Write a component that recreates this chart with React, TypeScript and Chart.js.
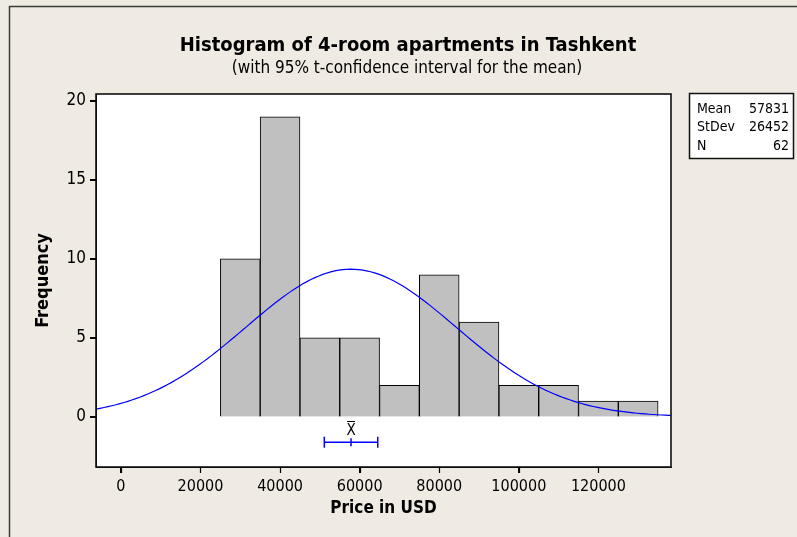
import React, { useEffect, useRef } from "react";
import { Chart, registerables } from "chart.js";

Chart.register(...registerables);

// ---- data ----
const BIN_CENTERS = [30000, 40000, 50000, 60000, 70000, 80000, 90000, 100000, 110000, 120000, 130000];
const BIN_COUNTS = [10, 19, 5, 5, 2, 9, 6, 2, 2, 1, 1];
const BIN_WIDTH = 10000;
const MEAN = 57831;
const STDEV = 26452;
const N = 62;
const CI_LOW = 51114;
const CI_HIGH = 64548;
const X_TICKS = [0, 20000, 40000, 60000, 80000, 100000, 120000];
const Y_TICKS = [0, 5, 10, 15, 20];
const X_MIN = -6256;
const X_MAX = 138240;
const Y_MIN = -3.17;
const Y_MAX = 20.44;
const CI_Y = -1.6;
const LEGEND_ROWS: [string, string][] = [
  ["Mean", "57831"],
  ["StDev", "26452"],
  ["N", "62"],
];
const TITLE = "Histogram of 4-room apartments in Tashkent";
const SUBTITLE = "(with 95% t-confidence interval for the mean)";
const X_LABEL = "Price in USD";
const Y_LABEL = "Frequency";

// fitted normal curve, defined by the summary statistics shown in the chart
const CURVE_X: number[] = [];
for (let x = X_MIN; x <= X_MAX; x += 1000) CURVE_X.push(x);
CURVE_X.push(X_MAX);
const curvePoints = CURVE_X.map((x) => ({
  x,
  y: (N * BIN_WIDTH) / (STDEV * Math.sqrt(2 * Math.PI)) * Math.exp(-0.5 * ((x - MEAN) / STDEV) ** 2),
}));

const FONT = "'Liberation Sans Narrow', 'DejaVu Sans Condensed', 'Liberation Sans', sans-serif";
const BG = "#efebe2";

const decorPlugin = {
  id: "decor",
  beforeDraw(chart: any) {
    const { ctx, chartArea } = chart;
    ctx.save();
    ctx.fillStyle = BG;
    ctx.fillRect(0, 0, chart.width, chart.height);
    ctx.fillStyle = "#ffffff";
    ctx.fillRect(chartArea.left, chartArea.top, chartArea.right - chartArea.left, chartArea.bottom - chartArea.top);
    // outer frame (top & left)
    ctx.strokeStyle = "#3a3a3a";
    ctx.lineWidth = 1.5;
    ctx.beginPath();
    ctx.moveTo(chart.width, 6.5);
    ctx.lineTo(9.5, 6.5);
    ctx.lineTo(9.5, chart.height);
    ctx.stroke();
    ctx.restore();
  },
  afterDraw(chart: any) {
    const { ctx, chartArea, scales } = chart;
    ctx.save();
    // plot frame
    ctx.strokeStyle = "#111";
    ctx.lineWidth = 1.6;
    ctx.strokeRect(chartArea.left, chartArea.top, chartArea.right - chartArea.left, chartArea.bottom - chartArea.top);

    // tick marks
    ctx.strokeStyle = "#000";
    ctx.lineWidth = 1.2;
    ctx.beginPath();
    X_TICKS.forEach((v) => {
      const px = Math.round(scales.x.getPixelForValue(v)) + 0.5;
      ctx.moveTo(px, chartArea.bottom);
      ctx.lineTo(px, chartArea.bottom + 6);
    });
    Y_TICKS.forEach((v) => {
      const py = Math.round(scales.y.getPixelForValue(v)) + 0.5;
      ctx.moveTo(chartArea.left, py);
      ctx.lineTo(chartArea.left - 6, py);
    });
    ctx.stroke();

    // titles
    ctx.fillStyle = "#000";
    ctx.textAlign = "center";
    ctx.textBaseline = "middle";
    ctx.font = `bold 20px ${FONT}`;
    ctx.fillText(TITLE, 408, 46);
    ctx.font = `17px ${FONT}`;
    ctx.fillText(SUBTITLE, 407, 69);

    // axis labels
    ctx.font = `bold 17px ${FONT}`;
    ctx.fillText(X_LABEL, (chartArea.left + chartArea.right) / 2, 509);
    ctx.save();
    ctx.font = `bold 18px ${FONT}`;
    ctx.translate(43, (chartArea.top + chartArea.bottom) / 2);
    ctx.rotate(-Math.PI / 2);
    ctx.fillText(Y_LABEL, 0, 0);
    ctx.restore();

    // X-bar label
    const mx = scales.x.getPixelForValue(MEAN);
    ctx.font = `15px ${FONT}`;
    ctx.fillText("X", mx, 431);
    ctx.strokeStyle = "#000";
    ctx.lineWidth = 1;
    ctx.beginPath();
    ctx.moveTo(mx - 4, 421.5);
    ctx.lineTo(mx + 4, 421.5);
    ctx.stroke();

    // stats box
    const bx = 689.5, by = 93.5, bw = 104, bh = 65;
    ctx.fillStyle = "#ffffff";
    ctx.fillRect(bx, by, bw, bh);
    ctx.strokeStyle = "#111";
    ctx.lineWidth = 1.5;
    ctx.strokeRect(bx, by, bw, bh);
    ctx.fillStyle = "#000";
    ctx.font = `14px ${FONT}`;
    LEGEND_ROWS.forEach(([k, v], i) => {
      const yy = 109 + i * 18.5;
      ctx.textAlign = "left";
      ctx.fillText(k, 697, yy);
      ctx.textAlign = "right";
      ctx.fillText(v, 789, yy);
    });
    ctx.restore();
  },
};

export default function App() {
  const ref = useRef<HTMLCanvasElement>(null);
  useEffect(() => {
    if (!ref.current) return;
    const chart = new Chart(ref.current, {
      type: "bar",
      data: {
        datasets: [
          {
            type: "line",
            data: curvePoints,
            borderColor: "#0000ff",
            borderWidth: 1.2,
            pointRadius: 0,
            tension: 0,
            order: 1,
          } as any,
          {
            type: "line",
            data: [
              { x: CI_LOW, y: CI_Y },
              { x: CI_HIGH, y: CI_Y },
            ],
            borderColor: "#0000ff",
            borderWidth: 1.5,
            pointStyle: "line",
            rotation: 90,
            pointRadius: 5.5,
            pointBorderColor: "#0000ff",
            pointBorderWidth: 1.5,
            order: 0,
          } as any,
          {
            type: "line",
            data: [{ x: MEAN, y: CI_Y }],
            showLine: false,
            pointStyle: "line",
            rotation: 90,
            pointRadius: 4,
            pointBorderColor: "#0000ff",
            pointBorderWidth: 1.5,
            order: 0,
          } as any,
          {
            type: "bar",
            data: BIN_CENTERS.map((x, i) => ({ x, y: BIN_COUNTS[i] })),
            backgroundColor: "#c0c0c0",
            borderColor: "#000000",
            borderWidth: 1,
            barPercentage: 1,
            categoryPercentage: 1,
            order: 2,
          } as any,
        ],
      },
      options: {
        animation: false,
        responsive: false,
        devicePixelRatio: 1,
        layout: { padding: { top: 94, right: 126, bottom: 0, left: 0 } },
        plugins: { legend: { display: false }, tooltip: { enabled: false }, title: { display: false } },
        scales: {
          x: {
            type: "linear",
            min: X_MIN,
            max: X_MAX,
            offset: false,
            afterBuildTicks: (axis: any) => {
              axis.ticks = X_TICKS.map((v) => ({ value: v }));
            },
            afterFit: (scale: any) => {
              scale.height = 70;
            },
            grid: { display: true, offset: false, drawOnChartArea: false, drawTicks: true, tickLength: 6, color: "#000", lineWidth: 1 },
            border: { display: true, color: "#000", width: 1 },
            ticks: {
              color: "#000",
              font: { family: FONT, size: 16 },
              padding: 4,
              maxRotation: 0,
              autoSkip: false,
              callback: (v: any) => String(v),
            },
          },
          y: {
            type: "linear",
            min: Y_MIN,
            max: Y_MAX,
            afterBuildTicks: (axis: any) => {
              axis.ticks = Y_TICKS.map((v) => ({ value: v }));
            },
            afterFit: (scale: any) => {
              scale.width = 96;
            },
            grid: { display: true, offset: false, drawOnChartArea: false, drawTicks: true, tickLength: 6, color: "#000", lineWidth: 1 },
            border: { display: true, color: "#000", width: 1 },
            ticks: {
              color: "#000",
              font: { family: FONT, size: 17 },
              padding: 4,
              autoSkip: false,
              callback: (v: any) => String(v),
            },
          },
        },
      },
      plugins: [decorPlugin],
    });
    return () => chart.destroy();
  }, []);
  return (
    <div style={{ position: "fixed", left: 0, top: 0, width: 797, height: 537, background: BG }}>
      <canvas ref={ref} width={797} height={537} style={{ display: "block" }} />
    </div>
  );
}
